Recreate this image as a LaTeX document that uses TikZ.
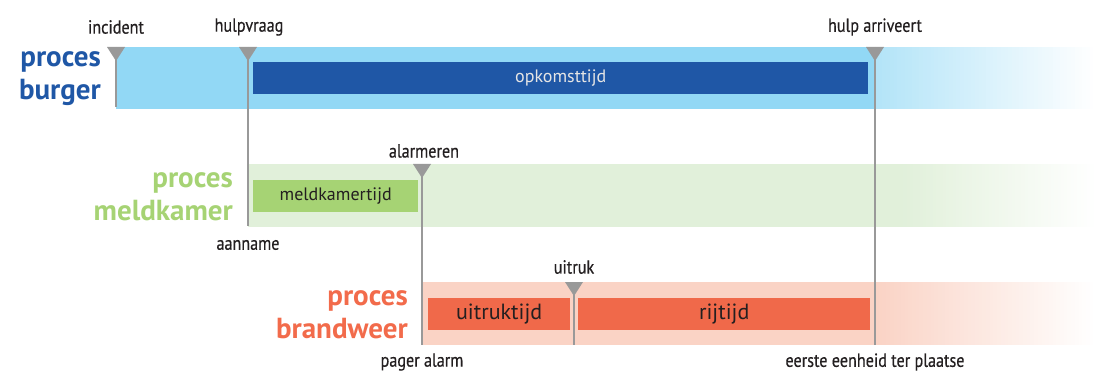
\documentclass[tikz,border=0pt]{standalone}
\usepackage{fontspec}
\setmainfont{PT Sans}
\newfontfamily\cond{PT Sans}[FakeStretch=0.85,FakeBold=0.4]
\usetikzlibrary{calc}
\definecolor{bandblue}{HTML}{92D8F5}
\definecolor{bandblueL}{HTML}{B3E4F8}
\definecolor{barblue}{HTML}{1F57A6}
\definecolor{bandgreen}{HTML}{E1F0DA}
\definecolor{bargreen}{HTML}{A6D374}
\definecolor{labgreen}{HTML}{A6D374}
\definecolor{bandred}{HTML}{FAD3C5}
\definecolor{barred}{HTML}{F0694A}
\definecolor{labred}{HTML}{F26B4B}
\definecolor{mark}{HTML}{999999}
\definecolor{txt}{HTML}{231F20}
\tikzset{
  ev/.style={font=\cond\fontsize{19}{19}\selectfont, text=txt, inner sep=0pt},
  proc/.style={font=\bfseries\fontsize{29}{33}\selectfont, align=right, anchor=east, inner sep=0pt},
  bar/.style={draw=none, inner sep=0pt, anchor=north west},
  mline/.style={draw=mark, line width=1.6pt},
  tri/.style={fill=mark}
}
\newcommand\fadeband[5]{% color, x0, x1, y0, y1
  \foreach \i in {0,...,59}{
    \pgfmathsetmacro\xa{#2+(#3-#2)*\i/60}
    \pgfmathsetmacro\xb{#2+(#3-#2)*(\i+1)/60+0.6}
    \pgfmathsetmacro\pc{100-100*\i/59}
    \fill[#1!\pc!white] (\xa,#4) rectangle (\xb,#5);
  }}
\begin{document}
\begin{tikzpicture}[x=1pt,y=-1pt]
\useasboundingbox (0,0) rectangle (1097,374);
% bands
\fill[bandblue] (116,47) rectangle (875.5,109);
\fadeband{bandblueL}{875}{1097}{47}{109}
\fill[bandgreen] (248,164) rectangle (900.5,227);
\fadeband{bandgreen}{900}{1097}{164}{227}
\fill[bandred] (422,282) rectangle (875.5,345);
\fadeband{bandred}{875}{1097}{282}{345}
% bars
\node[bar, fill=barblue, minimum width=615pt, minimum height=32pt] (opk) at (253,62) {};
\node[font=\fontsize{18}{18}\selectfont, text=white!90!black] at (opk.center) {opkomsttijd};
\node[bar, fill=bargreen, minimum width=165pt, minimum height=32pt] (mkt) at (253,180) {};
\node[font=\fontsize{18}{18}\selectfont, text=txt] at (mkt.center) {meldkamertijd};
\node[bar, fill=barred, minimum width=142pt, minimum height=32pt] (uit) at (428,298) {};
\node[font=\fontsize{22}{22}\selectfont, text=txt] at (uit.center) {uitruktijd};
\node[bar, fill=barred, minimum width=292pt, minimum height=32pt] (rij) at (578,298) {};
\node[font=\fontsize{22}{22}\selectfont, text=txt] at (rij.center) {rijtijd};
% process labels
\node[proc, text=barblue] (pb) at (101,79) {proces\\burger};
\node[proc, text=labgreen] (pm) at (233,197) {proces\\meldkamer};
\node[proc, text=labred] (pbw) at (408,315) {proces\\brandweer};
% event markers
\coordinate (inc) at (116,47);
\coordinate (hv) at (248,47);
\coordinate (ha) at (875,47);
\coordinate (al) at (422,164);
\coordinate (ut) at (574,282);
\coordinate (incE) at (116,107);
\coordinate (hvE) at (248,226);
\coordinate (haE) at (875,345);
\coordinate (alE) at (422,345);
\coordinate (utE) at (574,345);
\draw[mline] (inc) -- (incE);
\draw[mline] (hv) -- (hvE);
\draw[mline] (ha) -- (haE);
\draw[mline] (al) -- (alE);
\draw[mline] (ut) -- (utE);
\foreach \c in {inc,hv,ha,al,ut}{
  \fill[tri] ($(\c)+(-9,0)$) -- ($(\c)+(9,0)$) -- ($(\c)+(0,14)$) -- cycle;
}
% event labels
\node[ev] (lInc) at (116,27) {incident};
\node[ev] (lHv) at (249,27) {hulpvraag};
\node[ev] (lHa) at (875,27) {hulp arriveert};
\node[ev] (lAl) at (424,151) {alarmeren};
\node[ev] (lAa) at (248,245) {aanname};
\node[ev] (lUt) at (574,267) {uitruk};
\node[ev] (lPa) at (422,362) {pager alarm};
\node[ev] (lEe) at (875,362) {eerste eenheid ter plaatse};
\end{tikzpicture}
\end{document}
